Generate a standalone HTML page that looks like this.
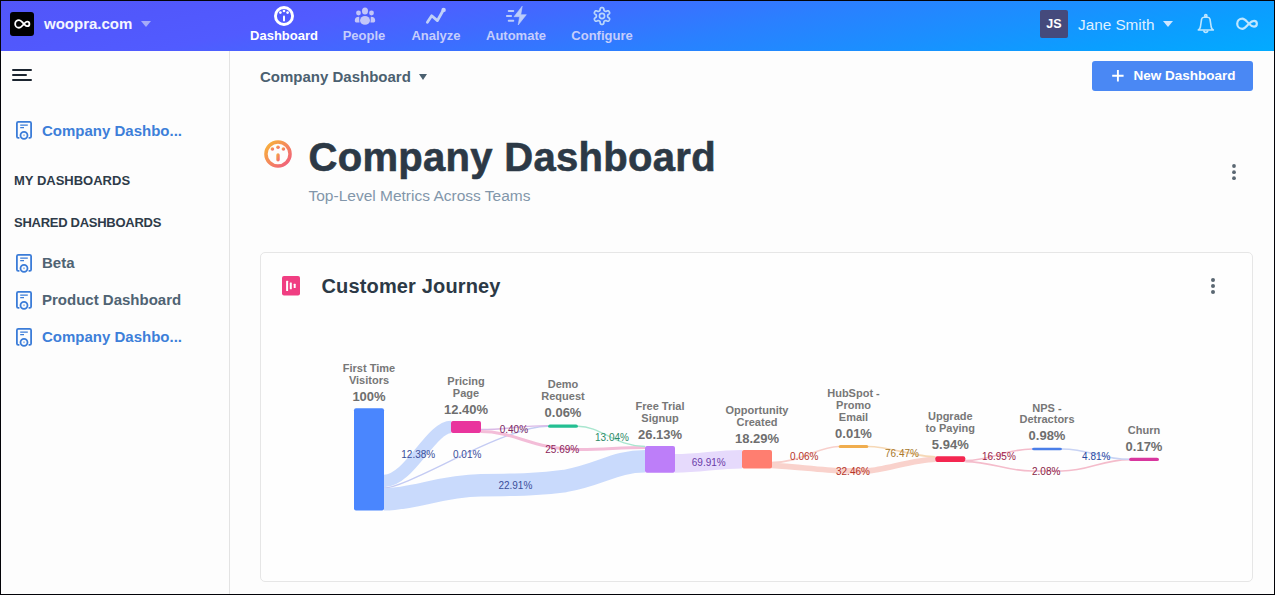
<!DOCTYPE html>
<html><head><meta charset="utf-8">
<style>
*{margin:0;padding:0;box-sizing:border-box}
html,body{width:1275px;height:595px;overflow:hidden;background:#fdfdfd}
body{font-family:"Liberation Sans",sans-serif;position:relative}
.abs{position:absolute;white-space:nowrap}
.frame{position:absolute;left:0;top:0;width:1275px;height:595px;border:1px solid #030308;pointer-events:none;z-index:50}
.hdr{position:absolute;left:0;top:0;width:1275px;height:51px;background:linear-gradient(168deg,#5256f9 0px,#5158fc 45px,#515bff 82px,#406aff 127px,#2a80ff 182px,#1a90ff 232px,#0b9eff 273px,#02abff 315px)}
.side{position:absolute;left:0;top:51px;width:230px;height:544px;background:#fdfdfd;border-right:1px solid #e3e3e3}
.nav{position:absolute;top:0;height:50px;text-align:center;color:#c5cdfc;font-weight:bold;font-size:13px}
.nav span{position:absolute;left:0;right:0;top:28px;white-space:nowrap}
.sb{position:absolute;left:42px;font-weight:bold;font-size:15px;white-space:nowrap;line-height:18px}
.sbh{position:absolute;left:14px;font-weight:bold;font-size:13px;color:#2e3b49;white-space:nowrap;line-height:16px}
.card{position:absolute;left:260px;top:252px;width:993px;height:330px;border:1px solid #e6e6e6;border-radius:5px;background:#fefefe}
</style></head><body>
<div class="hdr"></div>
<div class="side"></div>

<!-- header left -->
<div class="abs" style="left:10px;top:12px;width:24px;height:24px;background:#000;border-radius:3px"></div>
<div class="abs" style="left:44px;top:15.3px;color:#f4f6ff;font-weight:bold;font-size:15px;line-height:18px">woopra.com</div>
<div class="abs" style="left:141px;top:21px;width:0;height:0;border-left:5px solid transparent;border-right:5px solid transparent;border-top:6px solid #a6abf8"></div>

<!-- nav -->
<div class="nav" style="left:244px;width:80px;color:#fff"><span>Dashboard</span></div>
<div class="nav" style="left:324px;width:80px"><span>People</span></div>
<div class="nav" style="left:396px;width:80px"><span>Analyze</span></div>
<div class="nav" style="left:476px;width:80px"><span>Automate</span></div>
<div class="nav" style="left:562px;width:80px"><span>Configure</span></div>
<svg class="abs" style="left:0;top:0" width="1275" height="51" viewBox="0 0 1275 51">
 <!-- logo -->
 <path d="M19.00,20.05 C21.13,20.05 21.80,21.70 24.00,23.90 C25.40,25.30 25.83,26.20 27.10,26.20 C28.37,26.20 29.40,25.17 29.40,23.90 C29.40,22.63 28.37,21.60 27.10,21.60 C25.83,21.60 25.40,22.50 24.00,23.90 C21.80,26.10 21.13,27.75 19.00,27.75 C16.87,27.75 15.15,26.03 15.15,23.90 C15.15,21.77 16.87,20.05 19.00,20.05 Z" fill="none" stroke="#fff" stroke-width="1.8"/>
 <!-- dashboard icon -->
 <circle cx="284" cy="16" r="8.55" fill="none" stroke="#fff" stroke-width="2.9"/>
 <circle cx="280.4" cy="12.6" r="1.35" fill="#fff"/><circle cx="284" cy="11" r="1.35" fill="#fff"/><circle cx="287.6" cy="12.6" r="1.35" fill="#fff"/>
 <rect x="283" y="15.5" width="2" height="6" rx="1" fill="#fff"/>
 <!-- people -->
 <g fill="#c3c6f8">
 <ellipse cx="365" cy="11" rx="3" ry="3.6"/>
 <circle cx="358.5" cy="13" r="2.4"/><circle cx="371.5" cy="13" r="2.4"/>
 <ellipse cx="365" cy="20.4" rx="5" ry="4.4"/>
 <path d="M359.2,16.8 C356,16.8 354.8,18.5 354.8,20.5 C354.8,22 355.5,22.6 357,22.6 L359.6,22.6 C359.2,20.5 359.4,18.2 359.2,16.8Z"/>
 <path d="M370.8,16.8 C374,16.8 375.2,18.5 375.2,20.5 C375.2,22 374.5,22.6 373,22.6 L370.4,22.6 C370.8,20.5 370.6,18.2 370.8,16.8Z"/>
 </g>
 <!-- analyze -->
 <polyline points="427.4,22.3 431.7,15.8 437.4,20.6 442.8,11" fill="none" stroke="#bfd0f8" stroke-width="2.8" stroke-linecap="round" stroke-linejoin="round"/>
 <circle cx="443.6" cy="9.9" r="2.2" fill="#c5d2fa"/>
 <!-- automate -->
 <g fill="#bccdfa">
 <rect x="507.8" y="10" width="6.4" height="2.1" rx=".8"/>
 <rect x="506" y="14.9" width="6" height="2.1" rx=".8"/>
 <rect x="507.8" y="19.7" width="6.4" height="2.1" rx=".8"/>
 <path d="M522.2,6.2 L514,16.7 L519.6,16.7 L518.2,25 L526.3,14.7 L520.8,14.7 Z" stroke="#bccdfa" stroke-width=".6" stroke-linejoin="round"/>
 </g>
 <!-- configure gear -->
 <path d="M607.65,16.00 L607.65,16.15 L607.65,16.30 L607.65,16.44 L607.66,16.60 L607.69,16.75 L607.74,16.91 L607.85,17.08 L608.05,17.29 L608.36,17.53 L608.76,17.81 L609.15,18.12 L609.44,18.42 L609.59,18.69 L609.65,18.93 L609.64,19.16 L609.59,19.38 L609.52,19.59 L609.43,19.79 L609.34,19.98 L609.23,20.17 L609.12,20.36 L609.00,20.54 L608.86,20.72 L608.72,20.88 L608.56,21.03 L608.36,21.15 L608.12,21.23 L607.81,21.23 L607.41,21.13 L606.95,20.95 L606.50,20.75 L606.14,20.59 L605.86,20.52 L605.66,20.52 L605.49,20.55 L605.35,20.61 L605.21,20.67 L605.08,20.75 L604.95,20.82 L604.83,20.89 L604.70,20.97 L604.57,21.04 L604.44,21.12 L604.32,21.20 L604.19,21.30 L604.08,21.42 L603.99,21.61 L603.91,21.88 L603.86,22.27 L603.81,22.76 L603.74,23.25 L603.63,23.65 L603.47,23.92 L603.28,24.09 L603.08,24.19 L602.87,24.26 L602.65,24.30 L602.44,24.33 L602.22,24.35 L602.00,24.35 L601.78,24.35 L601.56,24.33 L601.35,24.30 L601.13,24.26 L600.92,24.19 L600.72,24.09 L600.53,23.92 L600.37,23.65 L600.26,23.25 L600.19,22.76 L600.14,22.27 L600.09,21.88 L600.01,21.61 L599.92,21.42 L599.81,21.30 L599.68,21.20 L599.56,21.12 L599.43,21.04 L599.30,20.97 L599.17,20.89 L599.05,20.82 L598.92,20.75 L598.79,20.67 L598.65,20.61 L598.51,20.55 L598.34,20.52 L598.14,20.52 L597.86,20.59 L597.50,20.75 L597.05,20.95 L596.59,21.13 L596.19,21.23 L595.88,21.23 L595.64,21.15 L595.44,21.03 L595.28,20.88 L595.14,20.72 L595.00,20.54 L594.88,20.36 L594.77,20.17 L594.66,19.98 L594.57,19.79 L594.48,19.59 L594.41,19.38 L594.36,19.16 L594.35,18.93 L594.41,18.69 L594.56,18.42 L594.85,18.12 L595.24,17.81 L595.64,17.53 L595.95,17.29 L596.15,17.08 L596.26,16.91 L596.31,16.75 L596.34,16.60 L596.35,16.44 L596.35,16.30 L596.35,16.15 L596.35,16.00 L596.35,15.85 L596.35,15.70 L596.35,15.56 L596.34,15.40 L596.31,15.25 L596.26,15.09 L596.15,14.92 L595.95,14.71 L595.64,14.47 L595.24,14.19 L594.85,13.88 L594.56,13.58 L594.41,13.31 L594.35,13.07 L594.36,12.84 L594.41,12.62 L594.48,12.41 L594.57,12.21 L594.66,12.02 L594.77,11.83 L594.88,11.64 L595.00,11.46 L595.14,11.28 L595.28,11.12 L595.44,10.97 L595.64,10.85 L595.88,10.77 L596.19,10.77 L596.59,10.87 L597.05,11.05 L597.50,11.25 L597.86,11.41 L598.14,11.48 L598.34,11.48 L598.51,11.45 L598.65,11.39 L598.79,11.33 L598.92,11.25 L599.05,11.18 L599.17,11.11 L599.30,11.03 L599.43,10.96 L599.56,10.88 L599.68,10.80 L599.81,10.70 L599.92,10.58 L600.01,10.39 L600.09,10.12 L600.14,9.73 L600.19,9.24 L600.26,8.75 L600.37,8.35 L600.53,8.08 L600.72,7.91 L600.92,7.81 L601.13,7.74 L601.35,7.70 L601.56,7.67 L601.78,7.65 L602.00,7.65 L602.22,7.65 L602.44,7.67 L602.65,7.70 L602.87,7.74 L603.08,7.81 L603.28,7.91 L603.47,8.08 L603.63,8.35 L603.74,8.75 L603.81,9.24 L603.86,9.73 L603.91,10.12 L603.99,10.39 L604.08,10.58 L604.19,10.70 L604.32,10.80 L604.44,10.88 L604.57,10.96 L604.70,11.03 L604.83,11.11 L604.95,11.18 L605.08,11.25 L605.21,11.33 L605.35,11.39 L605.49,11.45 L605.66,11.48 L605.86,11.48 L606.14,11.41 L606.50,11.25 L606.95,11.05 L607.41,10.87 L607.81,10.77 L608.12,10.77 L608.36,10.85 L608.56,10.97 L608.72,11.12 L608.86,11.28 L609.00,11.46 L609.12,11.64 L609.23,11.83 L609.34,12.02 L609.43,12.21 L609.52,12.41 L609.59,12.62 L609.64,12.84 L609.65,13.07 L609.59,13.31 L609.44,13.58 L609.15,13.88 L608.76,14.19 L608.36,14.47 L608.05,14.71 L607.85,14.92 L607.74,15.09 L607.69,15.25 L607.66,15.40 L607.65,15.56 L607.65,15.70 L607.65,15.85 Z" fill="none" stroke="#b9d6fb" stroke-width="1.7" stroke-linejoin="round"/>
 <circle cx="602" cy="16" r="2.6" fill="none" stroke="#b9d6fb" stroke-width="1.6"/>
 <!-- bell -->
 <g fill="none" stroke="#bfe6ff" stroke-width="1.6" stroke-linejoin="round">
 <path d="M1201.6,19.2 Q1202,17.2 1204,17.2 L1207.6,17.2 Q1209.6,17.2 1210,19.2 L1211.2,27 Q1211.6,29 1213.3,30 L1198.3,30 Q1200,29 1200.4,27 Z"/>
 <circle cx="1205.8" cy="15.7" r="1.1"/>
 <path d="M1203.9,30.6 A1.9,1.9 0 0 0 1207.7,30.6"/>
 </g>
 <!-- infinity -->
 <path d="M1242.30,18.60 C1245.12,18.60 1246.50,21.30 1248.90,23.70 C1250.30,25.10 1252.43,26.55 1254.00,26.55 C1255.57,26.55 1256.85,25.27 1256.85,23.70 C1256.85,22.13 1255.57,20.85 1254.00,20.85 C1252.43,20.85 1250.30,22.30 1248.90,23.70 C1246.50,26.10 1245.12,28.80 1242.30,28.80 C1239.48,28.80 1237.20,26.52 1237.20,23.70 C1237.20,20.88 1239.48,18.60 1242.30,18.60 Z" fill="none" stroke="#bfe6ff" stroke-width="2.2"/>
</svg>

<!-- header right -->
<div class="abs" style="left:1040px;top:10px;width:28px;height:28px;background:#454a7c;border-radius:2px;color:#fff;font-weight:bold;font-size:12.5px;text-align:center;line-height:28.5px">JS</div>
<div class="abs" style="left:1078px;top:15.8px;color:#dff0ff;font-size:15.3px;line-height:18px">Jane Smith</div>
<div class="abs" style="left:1163px;top:21px;width:0;height:0;border-left:5px solid transparent;border-right:5px solid transparent;border-top:6px solid #cfe6ff"></div>

<!-- sidebar -->
<svg class="abs" style="left:0;top:51px" width="229" height="544" viewBox="0 51 229 544">
 <g fill="#1c2530"><rect x="12" y="69" width="20" height="2" rx="1"/><rect x="12" y="74" width="15" height="2" rx="1"/><rect x="12" y="79" width="20" height="2" rx="1"/></g>
 <g id="ic" fill="none" stroke="#3b7cd8" stroke-width="1.8">
  <path d="M19.4,137.9 L18.3,137.9 Q16.9,137.9 16.9,136.5 L16.9,123.3 Q16.9,121.9 18.3,121.9 L29.7,121.9 Q31.1,121.9 31.1,123.3 L31.1,136.5 Q31.1,137.9 29.7,137.9 L28.6,137.9"/>
  <circle cx="24" cy="135.3" r="3.5"/>
  <path d="M20.2,125.1 L27.8,125.1 M20.2,127.7 L24,127.7" stroke-width="1.3"/>
  <circle cx="24" cy="135.3" r="1" fill="#9dbde9" stroke="none"/>
 </g>
 <use href="#ic" y="133"/>
 <use href="#ic" y="170"/>
 <use href="#ic" y="207"/>
</svg>
<div class="sb" style="top:121.8px;color:#3d7fd9">Company Dashbo...</div>
<div class="sbh" style="top:173px">MY DASHBOARDS</div>
<div class="sbh" style="top:215px;letter-spacing:-0.27px">SHARED DASHBOARDS</div>
<div class="sb" style="top:253.6px;color:#4f6373">Beta</div>
<div class="sb" style="top:291px;color:#4f6373">Product Dashboard</div>
<div class="sb" style="top:328px;color:#3d7fd9">Company Dashbo...</div>

<!-- main header -->
<div class="abs" style="left:260px;top:68px;color:#4b6070;font-weight:bold;font-size:15px;line-height:18px">Company Dashboard</div>
<div class="abs" style="left:419px;top:74px;width:0;height:0;border-left:4.6px solid transparent;border-right:4.6px solid transparent;border-top:6px solid #4b6070"></div>
<div class="abs" style="left:1092px;top:61px;width:161px;height:30px;background:#4a88f4;border-radius:3px;color:#fff;font-weight:bold;font-size:13.5px;line-height:30px;padding-left:41.5px">New Dashboard</div>
<svg class="abs" style="left:1092px;top:61px" width="40" height="30" viewBox="1092 61 40 30"><path d="M1117.9,70 V81.5 M1112.2,75.8 H1123.6" stroke="#fff" stroke-width="1.9"/></svg>

<svg class="abs" style="left:255px;top:130px" width="50" height="50" viewBox="255 130 50 50">
 <defs><linearGradient id="og" x1="0" y1="0" x2="1" y2="1"><stop offset="0" stop-color="#f8b637"/><stop offset="1" stop-color="#f05a80"/></linearGradient></defs>
 <circle cx="278" cy="154" r="12.05" fill="none" stroke="url(#og)" stroke-width="3.5"/>
 <g fill="url(#og)"><circle cx="272.4" cy="149" r="1.8"/><circle cx="278" cy="147.2" r="1.8"/><circle cx="283.4" cy="149" r="1.8"/><rect x="276.3" y="153.3" width="3.4" height="8.2" rx="1.7"/></g>
</svg>
<div class="abs" style="left:308.5px;top:133.5px;color:#2c3946;font-weight:bold;font-size:40px;line-height:46px;letter-spacing:0.3px;-webkit-text-stroke:0.6px #2c3946">Company Dashboard</div>
<div class="abs" style="left:308.5px;top:186.5px;color:#8296aa;font-size:15.5px;line-height:18px">Top-Level Metrics Across Teams</div>
<svg class="abs" style="left:1228px;top:160px" width="12" height="24" viewBox="1228 160 12 24"><g fill="#5a6772"><circle cx="1234" cy="166" r="1.9"/><circle cx="1234" cy="172.2" r="1.9"/><circle cx="1234" cy="178.2" r="1.9"/></g></svg>

<div class="card"></div>
<svg class="abs" style="left:276px;top:270px" width="30" height="30" viewBox="276 270 30 30">
 <rect x="282" y="276" width="18" height="19.6" rx="2" fill="#f03e82"/>
 <g fill="#fff"><rect x="286.1" y="280.8" width="2" height="10.1" rx=".5"/><rect x="289.8" y="282.5" width="2" height="6.7" rx=".5"/><rect x="293.7" y="283.8" width="2" height="4.1" rx=".5"/></g>
</svg>
<div class="abs" style="left:321.5px;top:274px;color:#2c3946;font-weight:bold;font-size:20px;line-height:24px;letter-spacing:0.15px">Customer Journey</div>
<svg class="abs" style="left:1205px;top:272px" width="16" height="28" viewBox="1205 272 16 28"><g fill="#5a6772"><circle cx="1213" cy="280" r="2"/><circle cx="1213" cy="286" r="2"/><circle cx="1213" cy="292" r="2"/></g></svg>

<!--CHART-->
<svg class="abs" style="left:0;top:0" width="1275" height="595" viewBox="0 0 1275 595">
<style>.v{font:bold 13px "Liberation Sans",sans-serif;fill:#6e6e6e;text-anchor:middle}.l{font:bold 11px "Liberation Sans",sans-serif;fill:#777;text-anchor:middle}.p{font:10px "Liberation Sans",sans-serif}</style>
<path d="M384,481 C409.1,481 430.9,427 451,427" fill="none" stroke="#c9dafc" stroke-width="12.5"/>
<path d="M384,488 C408.6,488 502.9,426.3 548,426.3" fill="none" stroke="#c4cbf3" stroke-width="1.4"/>
<path d="M384,499.3 C414,499.3 440,486 481,485.3 C520,484.8 540,484.5 565,481 C600,475 615,461.2 645,461.2" fill="none" stroke="#c9dafc" stroke-width="22.5"/>
<path d="M481,429.5 C507.8,429.5 521.2,425.6 548,425.6" fill="none" stroke="#dab9e6" stroke-width="1.4"/>
<path d="M481,431.6 C515.6,431.6 532.5,449.5 580,449.5 C606.0,449.5 619.0,447.5 645,447.5" fill="none" stroke="#f3bdd8" stroke-width="3"/>
<path d="M578,426.3 C601.5,426.3 614.9,446.4 645,446.4" fill="none" stroke="#a9e6cf" stroke-width="1.5"/>
<path d="M675,463.4 C701.8,463.4 715.2,459.3 742,459.3" fill="none" stroke="#e6dafc" stroke-width="18.6"/>
<path d="M771,462.6 C801.4,462.6 818.2,446.5 838.5,446.5" fill="none" stroke="#f8cfcb" stroke-width="1.6"/>
<path d="M771,465.4 C781.1,465.4 828.4,470.7 838.5,470.7 L868.5,470.7 C881.9,470.7 915.3,459.2 935.3,459.2" fill="none" stroke="#f9d2cc" stroke-width="5.6"/>
<path d="M868.5,446.5 C888.5,446.5 915.3,456.8 935.3,456.8" fill="none" stroke="#f6d8b6" stroke-width="1.6"/>
<path d="M965.3,460.6 C992.0,460.6 1005.3,449 1032,449" fill="none" stroke="#f4bccb" stroke-width="1.6"/>
<path d="M965.3,461.6 C992.0,461.6 1005.3,471 1032,471 L1062,471 C1088.8,471 1102.2,459.6 1129,459.6" fill="none" stroke="#f4bccb" stroke-width="1.6"/>
<path d="M1062,449 C1088.8,449 1102.2,459.3 1129,459.3" fill="none" stroke="#c8d3f4" stroke-width="1.6"/>
<rect x="354" y="408.3" width="30" height="102.1" rx="2" fill="#4a86fe"/>
<text x="369" y="401.0" class="v">100%</text>
<text x="369" y="372.2" class="l">First Time</text>
<text x="369" y="384.0" class="l">Visitors</text>
<rect x="451" y="421" width="30" height="12.0" rx="2" fill="#e9359d"/>
<text x="466" y="413.7" class="v">12.40%</text>
<text x="466" y="384.9" class="l">Pricing</text>
<text x="466" y="396.7" class="l">Page</text>
<rect x="548" y="424.5" width="30" height="3.3" rx="2" fill="#24bf92"/>
<text x="563" y="417.2" class="v">0.06%</text>
<text x="563" y="388.4" class="l">Demo</text>
<text x="563" y="400.2" class="l">Request</text>
<rect x="645" y="446" width="30" height="26.7" rx="2" fill="#bd7ef9"/>
<text x="660" y="438.7" class="v">26.13%</text>
<text x="660" y="409.9" class="l">Free Trial</text>
<text x="660" y="421.7" class="l">Signup</text>
<rect x="742" y="450" width="30" height="18.5" rx="2" fill="#ff7e70"/>
<text x="757" y="442.7" class="v">18.29%</text>
<text x="757" y="413.9" class="l">Opportunity</text>
<text x="757" y="425.7" class="l">Created</text>
<rect x="838.5" y="445" width="30" height="3.0" rx="2" fill="#f0ad4e"/>
<text x="853.5" y="437.7" class="v">0.01%</text>
<text x="853.5" y="397.1" class="l">HubSpot -</text>
<text x="853.5" y="408.9" class="l">Promo</text>
<text x="853.5" y="420.7" class="l">Email</text>
<rect x="935.3" y="456.3" width="30" height="5.7" rx="2" fill="#f42750"/>
<text x="950.3" y="449.0" class="v">5.94%</text>
<text x="950.3" y="420.2" class="l">Upgrade</text>
<text x="950.3" y="432.0" class="l">to Paying</text>
<rect x="1032" y="447.7" width="30" height="2.5" rx="2" fill="#4a7ee8"/>
<text x="1047" y="440.4" class="v">0.98%</text>
<text x="1047" y="411.6" class="l">NPS -</text>
<text x="1047" y="423.4" class="l">Detractors</text>
<rect x="1129" y="457.8" width="30" height="3.2" rx="2" fill="#d8369e"/>
<text x="1144" y="450.5" class="v">0.17%</text>
<text x="1144" y="433.5" class="l">Churn</text>
<text x="401.3" y="458.3" class="p" fill="#3b4f9a">12.38%</text>
<text x="453" y="458.3" class="p" fill="#3b4f9a">0.01%</text>
<text x="498.4" y="489.2" class="p" fill="#3b4f9a">22.91%</text>
<text x="499.7" y="433.1" class="p" fill="#7a2860">0.40%</text>
<text x="545.3" y="452.8" class="p" fill="#8a1f5a">25.69%</text>
<text x="595" y="441.1" class="p" fill="#2e8a68">13.04%</text>
<text x="691.8" y="466.3" class="p" fill="#6a3aa8">69.91%</text>
<text x="790.1" y="459.8" class="p" fill="#b5352a">0.06%</text>
<text x="836" y="474.7" class="p" fill="#b5352a">32.46%</text>
<text x="885" y="457.0" class="p" fill="#a8782a">76.47%</text>
<text x="981.9" y="459.6" class="p" fill="#9a2248">16.95%</text>
<text x="1032" y="474.8" class="p" fill="#8a1f48">2.08%</text>
<text x="1082.1" y="459.6" class="p" fill="#2a4aa0">4.81%</text>
</svg>
<!--/CHART-->
<div class="frame"></div>
</body></html>
